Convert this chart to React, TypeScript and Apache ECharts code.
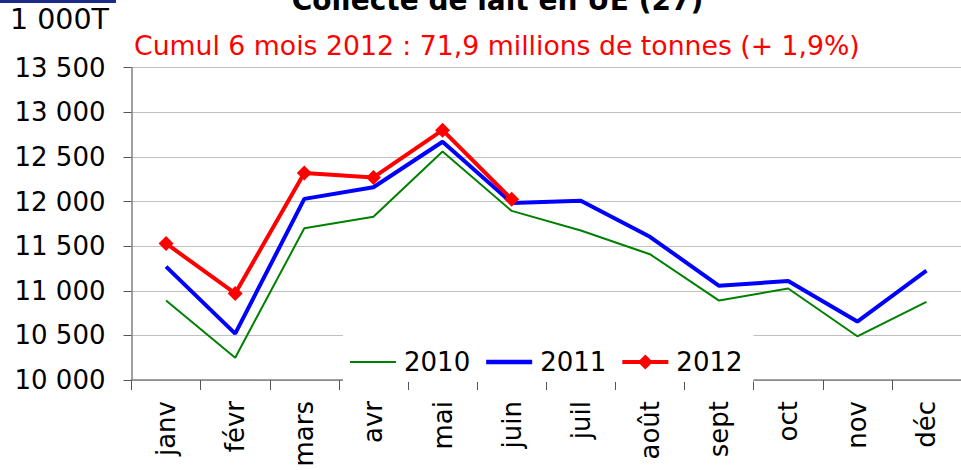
import React, { useEffect, useRef } from "react";
import * as echarts from "echarts";

const months = ["janv", "févr", "mars", "avr", "mai", "juin", "juil", "août", "sept", "oct", "nov", "déc"];
const y2010 = [10890, 10250, 11700, 11830, 12560, 11895, 11675, 11410, 10890, 11025, 10490, 10875];
const y2011 = [11270, 10520, 12030, 12160, 12670, 11985, 12010, 11605, 11055, 11110, 10655, 11225];
const y2012 = [11530, 10970, 12320, 12270, 12800, 12025];
const seriesNames = ["2010", "2011", "2012"];
const titleText = "Collecte de lait en UE (27)";
const unitText = "1 000T";
const subtitleText = "Cumul 6 mois 2012 : 71,9 millions de tonnes (+ 1,9%)";

const FONT = "DejaVu Sans";

function fmt(v: number): string {
  const s = String(Math.round(v));
  return s.replace(/\B(?=(\d{3})+(?!\d))/g, " ");
}

export default function App() {
  const ref = useRef<HTMLDivElement>(null);
  useEffect(() => {
    if (!ref.current) return;
    const chart = echarts.init(ref.current, undefined, { renderer: "svg" });
    chart.setOption({
      animation: false,
      backgroundColor: "#ffffff",
      textStyle: { fontFamily: FONT },
      graphic: [
        { type: "rect", shape: { x: 0, y: 0, width: 116, height: 3 }, style: { fill: "#1c2a8a" } },
        {
          type: "text",
          x: 497.5,
          y: 0,
          style: { text: titleText, fontFamily: FONT, fontWeight: "bold", fontSize: 28, fill: "#000", align: "center", verticalAlign: "middle" },
        },
        {
          type: "text",
          x: 10,
          y: 19,
          style: { text: unitText, fontFamily: FONT, fontSize: 28.5, fill: "#000", align: "left", verticalAlign: "middle" },
        },
        {
          type: "text",
          x: 134,
          y: 45,
          style: { text: subtitleText, fontFamily: FONT, fontSize: 26.7, fill: "#ff0000", align: "left", verticalAlign: "middle" },
        },
      ],
      legend: {
        data: [
          { name: seriesNames[0], icon: "path://M0,0H46V2H0Z" },
          { name: seriesNames[1], icon: "path://M0,0H46V4.5H0Z" },
          { name: seriesNames[2], icon: "path://M0,5.5H46V9.5H0Z M23,0L30.5,7.5L23,15L15.5,7.5Z" },
        ],
        left: 343,
        top: 328,
        padding: [21, 11, 7, 7],
        backgroundColor: "#ffffff",
        itemWidth: 46,
        itemHeight: 15,
        itemGap: 16,
        textStyle: { fontFamily: FONT, fontSize: 26, color: "#000", padding: [0, 0, 0, 3] },
        z: 10,
      },
      grid: { left: 131.5, top: 67.7, width: 840, height: 312.3, containLabel: false },
      xAxis: {
        type: "category",
        data: months,
        boundaryGap: true,
        axisLine: { lineStyle: { color: "#808080", width: 1.5 } },
        axisTick: { show: true, length: 10, lineStyle: { color: "#555" } },
        axisLabel: { rotate: 90, margin: 21, fontFamily: FONT, fontSize: 26, color: "#000", interval: 0 },
        splitLine: { show: false },
      },
      yAxis: {
        type: "value",
        min: 10000,
        max: 13500,
        interval: 500,
        axisLine: { show: true, lineStyle: { color: "#808080", width: 1.5 } },
        axisTick: { show: true, length: 8, lineStyle: { color: "#555" } },
        axisLabel: { margin: 26, fontFamily: FONT, fontSize: 26, color: "#000", formatter: (v: number) => fmt(v) },
        splitLine: { show: true, lineStyle: { color: "#c0c0c0", width: 1 } },
      },
      series: [
        {
          name: seriesNames[0],
          type: "line",
          data: y2010,
          symbol: "none",
          lineStyle: { color: "#008000", width: 2 },
          itemStyle: { color: "#008000" },
        },
        {
          name: seriesNames[1],
          type: "line",
          data: y2011,
          symbol: "none",
          lineStyle: { color: "#0000ff", width: 4 },
          itemStyle: { color: "#0000ff" },
        },
        {
          name: seriesNames[2],
          type: "line",
          data: y2012,
          symbol: "diamond",
          symbolSize: 15,
          lineStyle: { color: "#ff0000", width: 4 },
          itemStyle: { color: "#ff0000" },
        },
      ],
    });
    return () => chart.dispose();
  }, []);
  return <div ref={ref} style={{ position: "absolute", left: 0, top: 0, width: 961, height: 470 }} />;
}
